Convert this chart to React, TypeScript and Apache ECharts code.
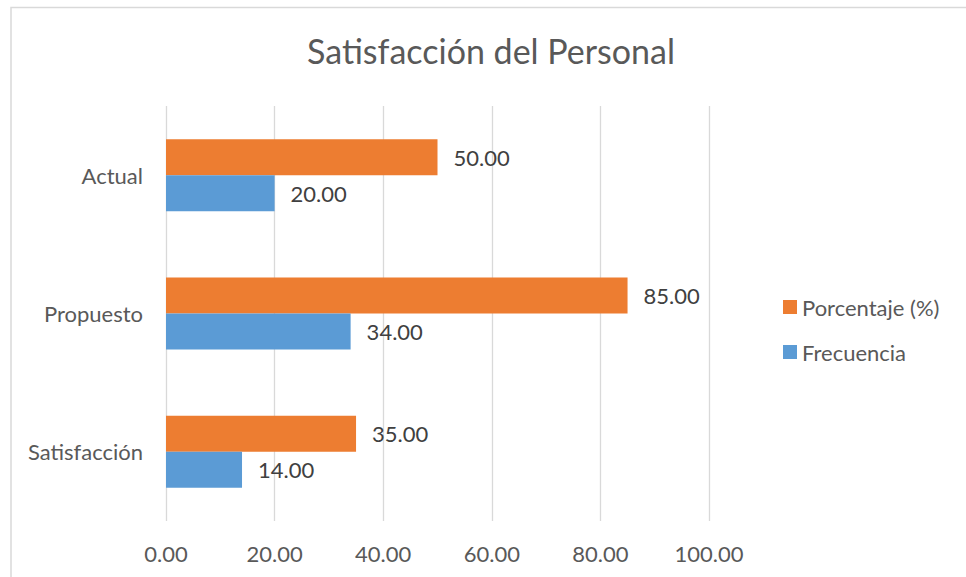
import React, { useEffect, useRef } from "react";
import * as echarts from "echarts";

const categories = ["Satisfacción", "Propuesto", "Actual"];
const frecuencia = [14, 34, 20];
const porcentaje = [35, 85, 50];
const xTicks = { min: 0, max: 100, interval: 20 };
const title = "Satisfacción del Personal";

const FONT = "Lato, 'Open Sans', sans-serif";

export default function App() {
  const ref = useRef<HTMLDivElement>(null);
  useEffect(() => {
    if (!ref.current) return;
    const chart = echarts.init(ref.current, undefined, { renderer: "svg" });
    const label = {
      show: true,
      position: "right",
      distance: 16,
      fontSize: 22,
      fontFamily: FONT,
      color: "#404040",
      formatter: (p: any) => Number(p.value).toFixed(2),
    };
    chart.setOption({
      animation: false,
      backgroundColor: "#ffffff",
      textStyle: { fontFamily: FONT },
      title: {
        text: title,
        left: 486,
        top: 28,
        textAlign: "center",
        textStyle: { fontSize: 34, fontWeight: "normal", color: "#595959", fontFamily: FONT },
      },
      graphic: [
        {
          type: "rect",
          shape: { x: 11, y: 7.5, width: 1000, height: 620 },
          style: { fill: "none", stroke: "#d9d9d9", lineWidth: 1.5 },
          silent: true,
          z: -1,
        },
      ],
      legend: {
        orient: "vertical",
        left: 778,
        top: 291,
        itemWidth: 14,
        itemHeight: 14,
        itemGap: 23,
        icon: "rect",
        data: ["Porcentaje (%)", "Frecuencia"],
        textStyle: { fontSize: 22, color: "#595959", fontFamily: FONT },
      },
      grid: { left: 166, right: 257, top: 106, bottom: 56, containLabel: false },
      xAxis: {
        type: "value",
        min: xTicks.min,
        max: xTicks.max,
        interval: xTicks.interval,
        axisLine: { show: false },
        axisTick: { show: false },
        splitLine: { show: true, lineStyle: { color: "#d9d9d9", width: 1.3 } },
        axisLabel: {
          margin: 21,
          fontSize: 22,
          color: "#595959",
          fontFamily: FONT,
          formatter: (v: number) => v.toFixed(2),
        },
      },
      yAxis: {
        type: "category",
        data: categories,
        axisLine: { show: false },
        axisTick: { show: false },
        axisLabel: { margin: 23, fontSize: 22, color: "#595959", fontFamily: FONT },
      },
      series: [
        {
          name: "Porcentaje (%)",
          type: "bar",
          data: porcentaje,
          barWidth: 36,
          barGap: "0%",
          itemStyle: { color: "#ED7D31" },
          label,
        },
        {
          name: "Frecuencia",
          type: "bar",
          data: frecuencia,
          barWidth: 36,
          barGap: "0%",
          itemStyle: { color: "#5B9BD5" },
          label,
        },
      ],
    });
    return () => chart.dispose();
  }, []);
  return (
    <div
      ref={ref}
      style={{ position: "fixed", left: 0, top: 0, width: 966, height: 577 }}
    />
  );
}
